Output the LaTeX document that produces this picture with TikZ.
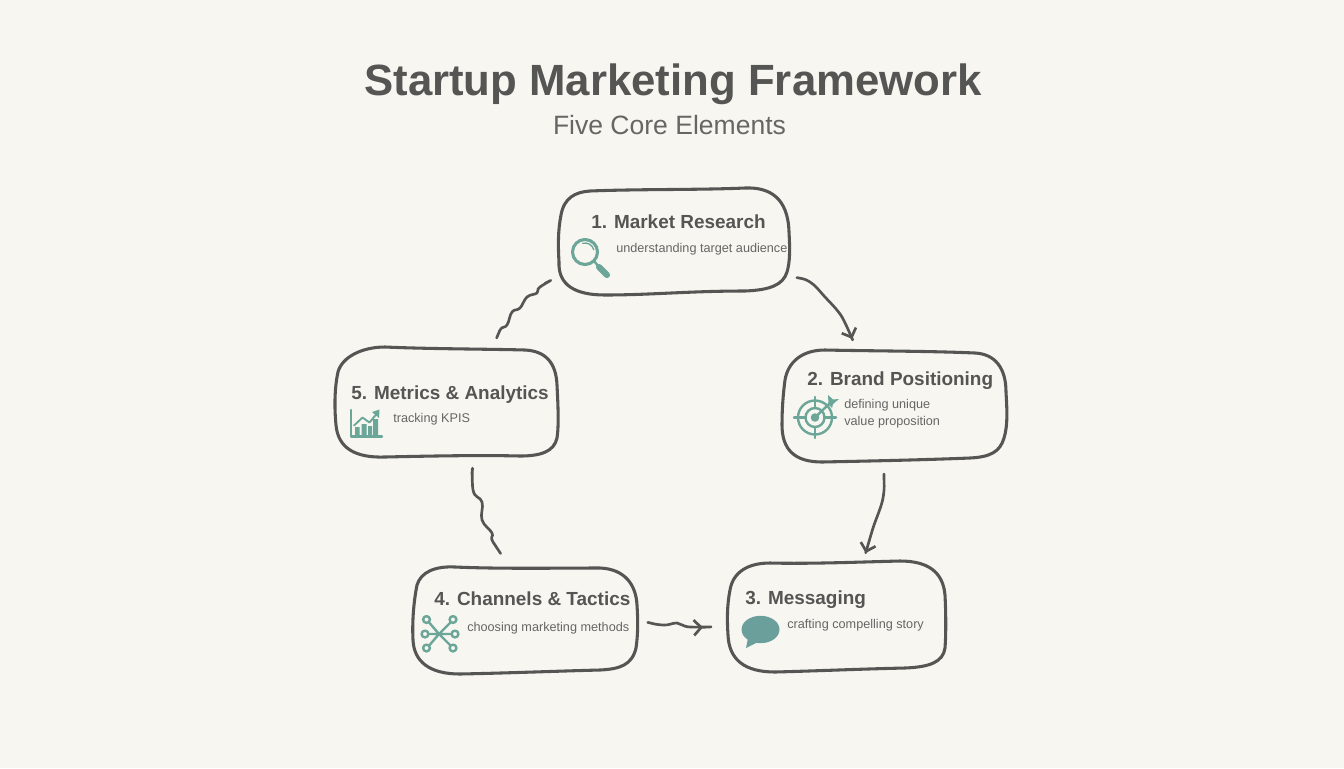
\documentclass[tikz,border=0pt]{standalone}
\usepackage{fontspec}
\setmainfont{Liberation Sans}
\usetikzlibrary{arrows.meta,fit}
\definecolor{paper}{HTML}{F7F6F1}
\definecolor{ink}{HTML}{555553}
\definecolor{subink}{HTML}{666664}
\definecolor{iconteal}{HTML}{6BA698}
\definecolor{bubbleteal}{HTML}{6B9F9C}
\begin{document}
\begin{tikzpicture}[x=0.75pt, y=-0.75pt, line join=round, line cap=round, >={Straight Barb[length=5.5pt,width=11.5pt]},
        boxarea/.style={inner sep=0pt, outer sep=0pt},
        outline/.style={draw=ink, line width=2.3pt},
        link/.style={draw=ink, line width=2pt},
        headtext/.style={anchor=base west, inner sep=0pt, text=ink, font=\fontsize{14.2}{17}\selectfont\bfseries},
        desctext/.style={anchor=base west, inner sep=0pt, text=subink, align=left, font=\fontsize{9.5}{12.6}\selectfont},
        icon/.style={draw=iconteal, line width=1.8pt}]
            \fill[paper] (0,0) rectangle (1344,768);
            \useasboundingbox (0,0) rectangle (1344,768);
            \node[anchor=base, text=ink, font=\fontsize{32.8}{38}\selectfont\bfseries, inner sep=0pt] (maintitle) at (673,95) {Startup Marketing Framework};
            \node[anchor=base, text=subink, font=\fontsize{19.9}{24}\selectfont, inner sep=0pt] (subtitle) at (669.5,134) {Five Core Elements};

            \node[boxarea, fit={(559,189) (789,293)}] (research) {};
            \node[boxarea, fit={(782,350) (1007,462)}] (positioning) {};
            \node[boxarea, fit={(727,562) (946,671)}] (messaging) {};
            \node[boxarea, fit={(413,567) (638,673)}] (channels) {};
            \node[boxarea, fit={(335,347) (558,457)}] (metrics) {};

            \draw[outline] (590,191) .. controls (640,189) and (700,190) .. (745,188) .. controls (770,187) and (788,198) .. (789,232) .. controls (790,250) and (790,262) .. (787,272) .. controls (783,285) and (770,290) .. (745,291) .. controls (690,291) and (650,295) .. (605,295) .. controls (575,295) and (558,285) .. (559,262) .. controls (558,245) and (558,230) .. (561,215) .. controls (564,198) and (575,192) .. (590,191) -- cycle;
            \draw[outline] (825,350) .. controls (870,351) and (930,351) .. (975,353) .. controls (995,354) and (1006,368) .. (1006,392) .. controls (1007,410) and (1008,425) .. (1004,438) .. controls (1000,452) and (990,457) .. (970,458) .. controls (920,460) and (870,461) .. (822,462) .. controls (795,462) and (782,450) .. (782,425) .. controls (782,410) and (783,395) .. (785,380) .. controls (788,362) and (802,350) .. (825,350) -- cycle;
            \draw[outline] (770,563) .. controls (810,564) and (860,562) .. (900,561) .. controls (928,561) and (943,572) .. (945,595) .. controls (946,615) and (946,635) .. (945,648) .. controls (943,662) and (930,667) .. (905,668) .. controls (860,669) and (815,671) .. (775,672) .. controls (745,672) and (729,660) .. (728,635) .. controls (727,620) and (727,605) .. (730,590) .. controls (733,572) and (748,563) .. (770,563) -- cycle;
            \draw[outline] (455,567) .. controls (500,569) and (560,568) .. (600,568) .. controls (625,569) and (636,585) .. (637,605) .. controls (638,620) and (638,635) .. (636,648) .. controls (632,665) and (620,669) .. (600,670) .. controls (560,671) and (510,673) .. (460,674) .. controls (430,674) and (414,662) .. (413,640) .. controls (412,620) and (414,600) .. (417,585) .. controls (421,572) and (435,566) .. (455,567) -- cycle;
            \draw[outline] (385,347) .. controls (430,349) and (490,349) .. (525,350) .. controls (545,351) and (556,362) .. (557,385) .. controls (558,405) and (559,425) .. (557,438) .. controls (554,452) and (540,456) .. (520,456) .. controls (480,455) and (430,456) .. (385,457) .. controls (355,458) and (338,448) .. (336,425) .. controls (334,405) and (335,385) .. (338,372) .. controls (342,357) and (362,347) .. (385,347) -- cycle;

            \node[headtext] (researchhead) at (591,228) {1. Market Research};
            \node[desctext] (researchdesc) at (616,252) {understanding target audience};
            \node[headtext] (positioninghead) at (807,385.5) {2. Brand Positioning};
            \node[desctext, anchor=north west] (positioningdesc) at (844,399.5) {defining unique\\value proposition};
            \node[headtext] (messaginghead) at (745,604) {3. Messaging};
            \node[desctext] (messagingdesc) at (787,628) {crafting compelling story};
            \node[headtext] (channelshead) at (434,605.5) {4. Channels \& Tactics};
            \node[desctext] (channelsdesc) at (467,631) {choosing marketing methods};
            \node[headtext] (metricshead) at (351,399) {5. Metrics \& Analytics};
            \node[desctext] (metricsdesc) at (393,422.5) {tracking KPIS};

            \draw[link, ->, shorten <=6pt, shorten >=9pt] plot[smooth, tension=0.5] coordinates {(research.-17.4) (810,282) (825,297) (842,317) (positioning.124.5)};
            \draw[link, ->, shorten <=9pt, shorten >=7pt] plot[smooth, tension=0.45] coordinates {(positioning.-101.6) (883,498) (873,528) (messaging.64)};
            \draw[link, ->, shorten <=7.5pt, shorten >=18pt] plot[smooth, tension=0.6] coordinates {(channels.0) (663,625) (677,623) (690,627) (messaging.185)};
            \draw[link, shorten <=12.9pt, shorten >=13pt] plot[smooth, tension=0.7] coordinates {(channels.105.3) (493,542) (492,533) (482,520) (482,502) (473,490) (metrics.-64.3)};
            \draw[link, shorten <=7pt, shorten >=12pt] plot[smooth, tension=0.7] coordinates {(metrics.49.8) (500,330) (507,325) (512,312) (520,308) (527,297) (537,293) (540,287) (research.197.4)};

            \draw[icon, line width=2.3pt] (585,252) circle (12.5);
            \draw[icon, line width=1pt] (582.7,243.3) arc[start angle=-105, end angle=-15, radius=9];
            \draw[icon, line width=1.8pt] (594,261) -- (599,267);
            \draw[icon, line width=4.6pt] (599,267) -- (607,275);

            \draw[icon] (815,417.5) circle (17);
            \draw[icon] (815,417.5) circle (9.5);
            \draw[icon, fill=iconteal] (815,417.5) circle (3);
            \draw[icon] (794,417.5) -- (805.5,417.5) (824.5,417.5) -- (836,417.5) (815,397) -- (815,408) (815,427) -- (815,438);
            \draw[icon] (815,417.5) -- (831,402);
            \fill[iconteal] (828,395) -- (833,399.5) -- (839,399) -- (833,404) -- (832,408) -- (828.5,404.5) -- cycle;

            \draw[icon] (351,410) -- (351,436.5) -- (382,436.5);
            \fill[iconteal] (355,427) rectangle (359.5,435) (361.5,424) rectangle (366.5,435) (368,426) rectangle (372,435) (373,419) rectangle (378,435);
            \draw[icon, line width=1.4pt] (354,425.5) -- (362.5,417.5) -- (369.5,422.5) -- (376.5,414);
            \fill[iconteal] (379.5,409.5) -- (379,418) -- (372,412) -- cycle;

            \draw[icon] (439,634) -- (427,620) (439,634) -- (453,620) (439,634) -- (425,634) (439,634) -- (455,634) (439,634) -- (427,648) (439,634) -- (453,648);
            \draw[icon, fill=paper] (426.5,619.5) circle (3.4) (453,619.5) circle (3.4) (425,634) circle (3.4) (455,634) circle (3.4) (426.5,648) circle (3.4) (453,648) circle (3.4);

            \fill[bubbleteal] (760.5,629.5) ellipse (19 and 13.7);
            \fill[bubbleteal] (748,638) -- (746,648) -- (758,642) -- cycle;
    \end{tikzpicture}
\end{document}
